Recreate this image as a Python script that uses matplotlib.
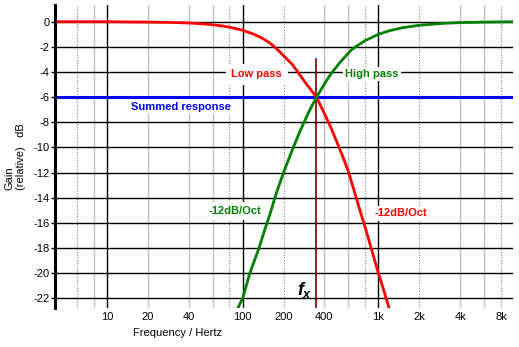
import numpy as np
import matplotlib
matplotlib.use("Agg")
import matplotlib.pyplot as plt

plt.rcParams['font.family'] = ['Liberation Sans', 'DejaVu Sans']
plt.rcParams['mathtext.fontset'] = 'custom'
plt.rcParams['mathtext.it'] = 'Liberation Sans:italic:bold'
plt.rcParams['mathtext.rm'] = 'Liberation Sans:bold'

# values (Hz, dB)
lp_freq = [4, 10, 20, 30, 40, 50, 60, 70, 80, 100, 120, 140, 160, 182, 200, 230,
           259, 290, 320, 350, 400, 450, 500, 550, 600, 678, 740, 811, 900, 1000,
           1070, 1140, 1200]
lp_gain = [0.0, 0.0, -0.03, -0.06, -0.1, -0.16, -0.24, -0.33, -0.43, -0.68, -0.98,
           -1.32, -1.72, -2.25, -2.7, -3.35, -4.1, -4.85, -5.45, -6.0, -7.3, -8.5,
           -9.7, -10.8, -11.9, -13.8, -15.2, -16.6, -18.3, -20.0, -21.0, -22.0, -22.8]

hp_freq = [92, 100, 113, 132, 145, 160, 175, 200, 230, 260, 300, 320, 350, 400, 450,
           520, 630, 700, 800, 1000, 1200, 1500, 2000, 3000, 4000, 6000, 10000]
hp_gain = [-22.8, -22.0, -20.0, -18.0, -16.6, -15.2, -13.8, -12.0, -10.3, -8.9, -7.4,
           -6.8, -6.0, -4.95, -4.1, -3.25, -2.25, -1.9, -1.5, -1.0, -0.72, -0.48,
           -0.28, -0.13, -0.07, -0.03, 0.0]

summed_gain = -6.0
fx_freq = 348
fx_top = -3.0

xtick_vals = [10, 20, 40, 100, 200, 400, 1000, 2000, 4000, 8000]
xtick_labels = ['10', '20', '40', '100', '200', '400', '1k', '2k', '4k', '8k']
ytick_vals = list(range(0, -23, -2))

major_v = [10, 100, 1000]
minor_solid = [8, 20, 40, 60, 400, 600, 4000, 6000]
minor_dotted = [6, 80, 200, 800, 2000, 8000]

fig = plt.figure(figsize=(5.19, 3.47), dpi=100)
ax = fig.add_axes([55/519, 1-308/347, (513-55)/519, (308-5)/347])
ax.set_xscale('log')
ax.set_xlim(4.15, 9800)
ax.set_ylim(-22.77, 1.33)

# grid
for v in minor_solid:
    ax.axvline(v, color='#c0c0c0', lw=1.0, zorder=1)
for v in minor_dotted:
    ax.axvline(v, color='#808080', lw=0.8, ls=(0, (1, 1.5)), zorder=1)
for v in major_v:
    ax.axvline(v, color='black', lw=1.0, zorder=1)
for v in ytick_vals:
    ax.axhline(v, color='black', lw=1.0, zorder=1)

ax.axhline(summed_gain, color='#0000ff', lw=2.2, zorder=3)
ax.plot(lp_freq, lp_gain, color='#ff0000', lw=2.0, zorder=4)
ax.plot(hp_freq, hp_gain, color='#008000', lw=2.0, zorder=4)
ax.plot([fx_freq, fx_freq], [fx_top, -22.77], color='#800000', lw=1.2, zorder=2)

box = dict(facecolor='white', edgecolor='none', pad=1.5)
ax.text(127, -4.18, 'Low pass', color='#ff0000', fontsize=8, fontweight='bold',
        ha='center', va='center', bbox=dict(facecolor='white', edgecolor='none', pad=4), zorder=5)
ax.text(893, -4.18, 'High pass', color='#008000', fontsize=8, fontweight='bold',
        ha='center', va='center', bbox=box, zorder=5)
ax.text(35, -6.76, 'Summed response', color='#0000ff', fontsize=8, fontweight='bold',
        ha='center', va='center', bbox=box, zorder=5)
ax.text(88.5, -15.06, '-12dB/Oct', color='#008000', fontsize=8, fontweight='bold',
        ha='center', va='center', bbox=dict(facecolor='white', edgecolor='none', pad=3), zorder=5)
ax.text(1469, -15.25, '-12dB/Oct', color='#ff0000', fontsize=8, fontweight='bold',
        ha='center', va='center', bbox=box, zorder=5)
ax.text(286, -21.34, r'$f_x$', color='black', fontsize=13, ha='center', va='center', zorder=5)

for s in ['top', 'right', 'bottom']:
    ax.spines[s].set_visible(False)
ax.spines['left'].set_linewidth(2.2)
ax.spines['left'].set_zorder(6)

ax.set_xticks(xtick_vals)
ax.set_xticklabels(xtick_labels)
ax.xaxis.set_minor_locator(matplotlib.ticker.NullLocator())
ax.set_yticks(ytick_vals)
ax.set_yticklabels([str(v) for v in ytick_vals])
ax.tick_params(axis='x', length=0, pad=3, labelsize=8)
ax.tick_params(axis='y', length=3, width=1, pad=1, labelsize=8)

fig.text(178/519, 1-333/347, 'Frequency / Hertz', fontsize=8, ha='center', va='center')
fig.text(15.5/519, 1-190/347, 'Gain\n(relative)   dB', fontsize=8, rotation=90,
         ha='center', va='bottom', multialignment='left')

fig.savefig('out.png', dpi=100)
